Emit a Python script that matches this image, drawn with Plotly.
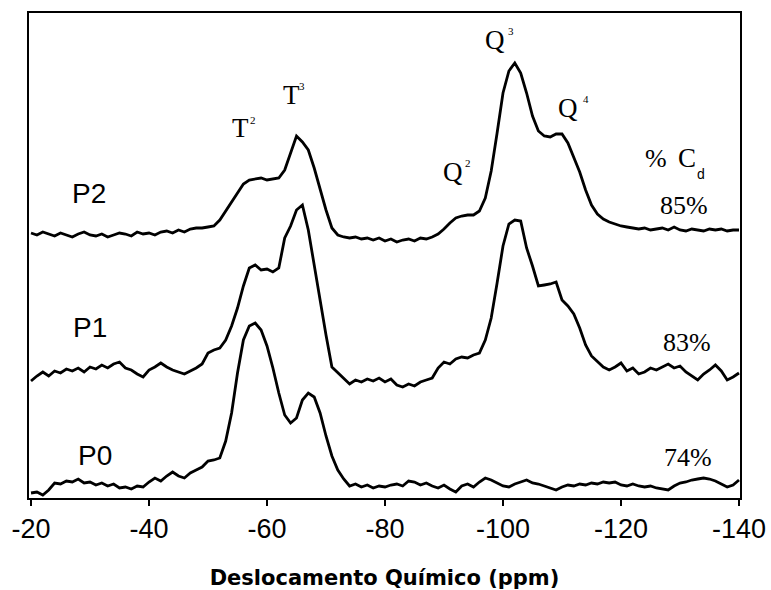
import plotly.graph_objects as go

# Chemical shift axis (ppm), 1 ppm steps from -20 to -140
ppm = [-(20 + i) for i in range(121)]

# Intensities (arbitrary units, stacked offsets included)
P2 = [265, 263, 266, 264, 262, 265, 263, 261, 264, 266,   # -20..-29
      263, 262, 264, 261, 263, 265, 264, 262, 266, 264,   # -30..-39
      265, 263, 266, 267, 265, 268, 266, 269, 270, 270,   # -40..-49
      271, 272, 278, 287, 296, 306, 314, 318, 319, 320,   # -50..-59
      318, 319, 320, 328, 345, 362, 356, 348, 330, 308,   # -60..-69
      288, 270, 263, 261, 260, 261, 259, 260, 258, 260,   # -70..-79
      257, 259, 256, 258, 259, 257, 260, 259, 261, 264,   # -80..-89
      269, 275, 280, 282, 283, 283, 287, 300, 327, 365,   # -90..-99
      405, 427, 435, 425, 405, 382, 367, 362, 361, 364,   # -100..-109
      364, 355, 340, 326, 308, 293, 284, 279, 276, 274,   # -110..-119
      272, 271, 270, 269, 270, 268, 269, 270, 268, 271,   # -120..-129
      268, 267, 269, 268, 267, 269, 268, 269, 267, 268,   # -130..-139
      268]                                                # -140

P1 = [117, 122, 126, 122, 127, 125, 129, 127, 130, 126,
      131, 129, 133, 130, 134, 136, 130, 128, 124, 121,
      128, 131, 135, 131, 128, 126, 124, 127, 130, 134,
      145, 148, 150, 158, 172, 190, 212, 230, 233, 228,
      229, 226, 230, 260, 272, 288, 293, 268, 232, 198,
      163, 131, 125, 120, 114, 118, 116, 119, 117, 120,
      116, 119, 113, 111, 114, 112, 116, 118, 120, 130,
      136, 134, 139, 141, 140, 143, 145, 158, 180, 215,
      252, 274, 278, 277, 250, 232, 212, 213, 214, 216,
      198, 192, 184, 170, 153, 142, 136, 131, 128, 131,
      135, 127, 130, 124, 126, 130, 128, 131, 134, 130,
      132, 126, 122, 118, 124, 128, 133, 127, 118, 121,
      125]

P0 = [5, 6, 3, 8, 15, 14, 17, 16, 19, 15,
      16, 13, 15, 12, 14, 10, 11, 9, 12, 11,
      16, 20, 17, 22, 26, 22, 20, 25, 28, 31,
      37, 38, 40, 57, 85, 125, 158, 172, 175, 168,
      152, 130, 105, 83, 75, 80, 98, 105, 101, 85,
      62, 42, 28, 19, 12, 14, 11, 13, 10, 12,
      11, 13, 14, 12, 17, 16, 13, 15, 12, 10,
      13, 9, 6, 12, 14, 11, 16, 20, 18, 15,
      12, 11, 14, 16, 18, 15, 14, 12, 10, 8,
      11, 13, 12, 14, 13, 15, 14, 16, 15, 16,
      13, 12, 14, 12, 11, 12, 10, 9, 8, 12,
      15, 16, 18, 19, 20, 19, 17, 14, 11, 13,
      18]

tick_vals = [-20, -40, -60, -80, -100, -120, -140]
tick_text = ["-20", "-40", "-60", "-80", "-100", "-120", "-140"]

sample_labels = ["P2", "P1", "P0"]
cd_labels = ["85%", "83%", "74%"]
peak_letters = ["T", "T", "Q", "Q", "Q"]
peak_indices = ["2", "3", "2", "3", "4"]

fig = go.Figure()
for name, ys in zip(sample_labels, [P2, P1, P0]):
    fig.add_trace(go.Scatter(x=ppm, y=ys, mode="lines", name=name,
                             line=dict(color="black", width=2.8),
                             showlegend=False, hoverinfo="skip"))

sans = "Liberation Sans, Arial, sans-serif"
serif = "Liberation Serif, Times New Roman, serif"

ann = []
# sample labels
for txt, (x, y) in zip(sample_labels, [(-29.8, 305), (-30.0, 171), (-30.8, 43)]):
    ann.append(dict(x=x, y=y, text=txt, showarrow=False, xanchor="center", yanchor="middle",
                    font=dict(family=sans, size=28, color="black")))
# crystallinity labels
for txt, (x, y) in zip(cd_labels, [(-130.6, 293), (-131.2, 156), (-131.3, 41)]):
    ann.append(dict(x=x, y=y, text=txt, showarrow=False, xanchor="center", yanchor="middle",
                    font=dict(family=serif, size=26, color="black")))
# peak labels: letter + small superscript index
letter_pos = [(-55.5, 370), (-64.1, 403), (-91.6, 326), (-98.6, 458), (-111.1, 390)]
index_pos = [(-57.6, 378), (-66.0, 412), (-94.0, 335), (-101.3, 467), (-114.0, 399)]
for L, I, (lx, ly), (ix, iy) in zip(peak_letters, peak_indices, letter_pos, index_pos):
    ann.append(dict(x=lx, y=ly, text=L, showarrow=False, xanchor="center", yanchor="middle",
                    font=dict(family=serif, size=27, color="black")))
    ann.append(dict(x=ix, y=iy, text=I, showarrow=False, xanchor="center", yanchor="middle",
                    font=dict(family=serif, size=11, color="black")))
# "% C_d" header
ann.append(dict(x=-125.9, y=340, text="%", showarrow=False, xanchor="center", yanchor="middle",
                font=dict(family=serif, size=26, color="black")))
ann.append(dict(x=-131.2, y=340, text="C", showarrow=False, xanchor="center", yanchor="middle",
                font=dict(family=serif, size=27, color="black")))
ann.append(dict(x=-133.6, y=324, text="d", showarrow=False, xanchor="center", yanchor="middle",
                font=dict(family=sans, size=14, color="black")))

fig.update_layout(
    width=771, height=590,
    margin=dict(l=29, r=31, t=13, b=92),
    paper_bgcolor="white", plot_bgcolor="white",
    annotations=ann,
    xaxis=dict(range=[-19.66, -140.17], tickvals=tick_vals, ticktext=tick_text,
               ticks="outside", ticklen=6, tickwidth=2, tickcolor="black",
               showline=True, linewidth=2, linecolor="black", mirror=True,
               showgrid=False, zeroline=False, automargin=False,
               tickfont=dict(family=sans, size=27, color="black"),
               title=dict(text="<b>Deslocamento Químico (ppm)</b>", standoff=28,
                          font=dict(family="DejaVu Sans", size=21, color="black"))),
    yaxis=dict(range=[0, 485], showticklabels=False, ticks="",
               showline=True, linewidth=2, linecolor="black", mirror=True,
               showgrid=False, zeroline=False, automargin=False),
)

fig.write_html("out.html")
